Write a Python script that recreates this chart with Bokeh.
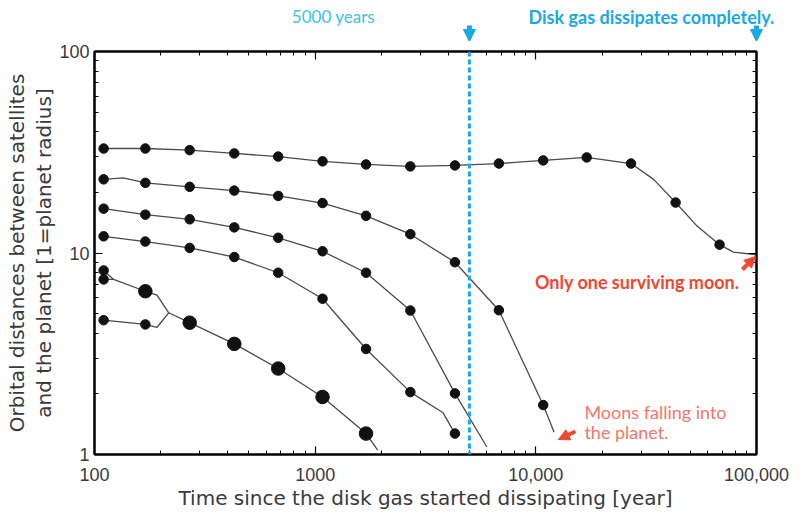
import math
from bokeh.plotting import figure
from bokeh.layouts import column
from bokeh.models import LogAxis, FixedTicker, Span, Label, Arrow, NormalHead, Range1d
from bokeh.embed import file_html
from bokeh.resources import INLINE

# ---------------- data ----------------
times = [110, 170, 270, 430, 680, 1080, 1700, 2700, 4300, 6800, 10800, 17000, 27000, 43000, 68000]

moon1_r = [33.0, 33.0, 32.4, 31.2, 30.1, 28.5, 27.5, 26.9, 27.2, 27.8, 28.8, 29.8, 27.8, 17.8, 11.0]
moon1_extra_t = [34200, 53800, 78600, 100000]
moon1_extra_r = [23.2, 13.6, 10.1, 9.8]

moon2_r = [23.2, 22.3, 21.3, 20.4, 19.2, 17.7, 15.3, 12.4, 9.0, 5.2, 1.76]
moon2_extra_t = [135, 12100]
moon2_extra_r = [23.6, 1.29]

moon3_r = [16.6, 15.5, 14.7, 13.4, 11.9, 10.2, 7.98, 5.18, 2.01]
moon3_extra_t = [6000]
moon3_extra_r = [1.09]

moon4_r = [12.1, 11.4, 10.6, 9.55, 7.98, 5.93, 3.34, 2.04, 1.27]
moon4_extra_t = [3800]
moon4_extra_r = [1.61]

# colliding inner moons
pairA_t = [110, 122]
pairA_r = [8.19, 7.39]
pairB_t = [110, 122, 170, 192, 217]
pairB_r = [7.39, 7.39, 6.46, 6.18, 5.05]
pairC_t = [110, 170, 192, 217]
pairC_r = [4.64, 4.42, 4.28, 5.05]
merged_t = [217, 270, 430, 680, 1080, 1700, 1920]
merged_r = [5.05, 4.51, 3.54, 2.67, 1.93, 1.27, 1.05]

small_dot_t = [110, 110, 110, 170]
small_dot_r = [8.19, 7.39, 4.64, 4.42]
big_dot_t = [170, 270, 430, 680, 1080, 1700]
big_dot_r = [6.46, 4.51, 3.54, 2.67, 1.93, 1.27]

x_major = [100, 1000, 10000, 100000]
x_labels = ["100", "1000", "10,000", "100,000"]
y_major = [1, 10, 100]
y_labels = ["1", "10", "100"]
marker_time = 5000
end_time = 100000

# ---------------- layout / styling ----------------
LINE = "#4a4a4a"
DOT = "#111111"
CYAN = "#1aa9e0"
CYAN_LIGHT = "#3dbfe9"
RED = "#f0472f"
SALMON = "#f5766a"
TXT = "#3a3a3a"

LEFT, RIGHT = 94, 43
FRAME_W, FRAME_H = 662, 403
W = LEFT + FRAME_W + RIGHT
TOP_H = 41

# ---- strip above the plot that holds the cyan notes and arrows ----
# its own frame spans the whole strip; the log range is widened so that
# data x maps to the same pixel columns as in the main frame below
px_per_dec = FRAME_W / 3.0
top = figure(width=W, height=TOP_H, x_axis_type="log",
             x_range=Range1d(100 / 10 ** (LEFT / px_per_dec), 100000 * 10 ** (RIGHT / px_per_dec)),
             y_range=Range1d(TOP_H, 0),
             x_axis_location=None, y_axis_location=None,
             output_backend="svg", toolbar_location=None, min_border=0)
if "frame_align" in top.properties():
    top.frame_align = False
top.outline_line_color = None
top.grid.visible = False
top.add_layout(Label(x=1210, y=16, text="5000 years", text_font="Lato",
                     text_font_size="17px", text_color=CYAN_LIGHT,
                     text_align="center", text_baseline="middle"))
top.add_layout(Label(x=33400, y=16, text="Disk gas dissipates completely.", text_font="Lato",
                     text_font_size="18px", text_font_style="bold", text_color=CYAN,
                     text_align="center", text_baseline="middle"))
for xa in [marker_time, end_time]:
    top.add_layout(Arrow(x_start=xa, y_start=25, x_end=xa, y_end=TOP_H,
                         line_color=CYAN, line_width=5,
                         end=NormalHead(size=12, fill_color=CYAN, line_color=CYAN)))

# ---- main plot ----
p = figure(frame_width=FRAME_W, frame_height=FRAME_H, x_axis_type="log", y_axis_type="log",
           x_range=(100, 100000), y_range=(1, 100),
           output_backend="svg", toolbar_location=None,
           min_border_left=LEFT, min_border_right=RIGHT, min_border_top=10, min_border_bottom=58)
if "frame_align" in p.properties():
    p.frame_align = False
p.grid.visible = False
p.outline_line_color = "black"
p.outline_line_width = 2
p.background_fill_color = "white"
p.border_fill_color = "white"

x_minor = [m * 10 ** e for e in range(2, 5) for m in range(2, 10)]
y_minor = [m * 10 ** e for e in range(0, 2) for m in range(2, 10)]
xt = FixedTicker(ticks=x_major, minor_ticks=x_minor)
yt = FixedTicker(ticks=y_major, minor_ticks=y_minor)


def style_axis(ax, show_labels):
    ax.axis_line_color = "black"
    ax.axis_line_width = 2
    ax.major_tick_in = 8
    ax.major_tick_out = 0
    ax.minor_tick_in = 4
    ax.minor_tick_out = 0
    ax.major_tick_line_color = "black"
    ax.minor_tick_line_color = "black"
    ax.major_tick_line_width = 1.2
    ax.minor_tick_line_width = 1
    ax.major_label_text_font = "Liberation Sans"
    ax.major_label_text_font_size = "18px"
    ax.major_label_text_color = TXT
    if not show_labels:
        ax.major_label_text_alpha = 0
        ax.major_label_text_font_size = "1px"
        ax.major_label_standoff = 0


p.xaxis.ticker = xt
p.yaxis.ticker = yt
p.xaxis.major_label_overrides = dict(zip(x_major, x_labels))
p.yaxis.major_label_overrides = dict(zip(y_major, y_labels))
style_axis(p.xaxis[0], True)
style_axis(p.yaxis[0], True)
p.xaxis.major_label_standoff = 13
p.yaxis.major_label_standoff = 5

p.xaxis.axis_label = "Time since the disk gas started dissipating [year]"
p.yaxis.axis_label = "Orbital distances between satellites\nand the planet [1=planet radius]"
for ax in (p.xaxis[0], p.yaxis[0]):
    ax.axis_label_text_font = "DejaVu Sans"
    ax.axis_label_text_font_size = "20px"
    ax.axis_label_text_font_style = "normal"
    ax.axis_label_text_color = TXT
    ax.axis_label_text_line_height = 1.15
p.xaxis.axis_label_standoff = 2
p.yaxis.axis_label_standoff = 0

top_ax = LogAxis(ticker=xt)
right_ax = LogAxis(ticker=yt)
style_axis(top_ax, False)
style_axis(right_ax, False)
p.add_layout(top_ax, "above")
p.add_layout(right_ax, "right")


def path(dot_t, dot_r, ext_t, ext_r):
    pts = sorted(zip(list(dot_t) + list(ext_t), list(dot_r) + list(ext_r)))
    return [a for a, _ in pts], [b for _, b in pts]


moons = [
    (times, moon1_r, moon1_extra_t, moon1_extra_r),
    (times[:len(moon2_r)], moon2_r, moon2_extra_t, moon2_extra_r),
    (times[:len(moon3_r)], moon3_r, moon3_extra_t, moon3_extra_r),
    (times[:len(moon4_r)], moon4_r, moon4_extra_t, moon4_extra_r),
]

# dashed 5000-year line
p.add_layout(Span(location=marker_time, dimension="height", line_color=CYAN,
                  line_width=3, line_dash="5 3"))

for dt, dr, et, er in moons:
    lt, lr = path(dt, dr, et, er)
    p.line(lt, lr, line_color=LINE, line_width=1.3)

for t_, r_ in [(pairA_t, pairA_r), (pairB_t, pairB_r), (pairC_t, pairC_r), (merged_t, merged_r)]:
    p.line(t_, r_, line_color=LINE, line_width=1.3)

for dt, dr, et, er in moons:
    p.scatter(dt, dr, size=9.5, fill_color=DOT, line_color=DOT)

p.scatter(small_dot_t, small_dot_r, size=9.5, fill_color=DOT, line_color=DOT)
p.scatter(big_dot_t, big_dot_r, size=13.5, fill_color=DOT, line_color=DOT)

# red notes
p.add_layout(Label(x=28800, y=7.22, text="Only one surviving moon.", text_font="Lato",
                   text_font_size="18px", text_font_style="bold", text_color=RED,
                   text_align="center", text_baseline="middle"))
p.add_layout(Arrow(x_start=86300, y_start=8.28, x_end=98900, y_end=9.61,
                   line_color=RED, line_width=4,
                   end=NormalHead(size=11, fill_color=RED, line_color=RED)))

p.add_layout(Label(x=16600, y=1.63, text="Moons falling into", text_font="Lato",
                   text_font_size="18px", text_color=SALMON,
                   text_align="left", text_baseline="middle"))
p.add_layout(Label(x=16600, y=1.29, text="the planet.", text_font="Lato",
                   text_font_size="18px", text_color=SALMON,
                   text_align="left", text_baseline="middle"))
p.add_layout(Arrow(x_start=15100, y_start=1.30, x_end=12650, y_end=1.187,
                   line_color=RED, line_width=4,
                   end=NormalHead(size=11, fill_color=RED, line_color=RED)))

layout = column(top, p, spacing=0)
open("out.html", "w").write(file_html(layout, INLINE))
